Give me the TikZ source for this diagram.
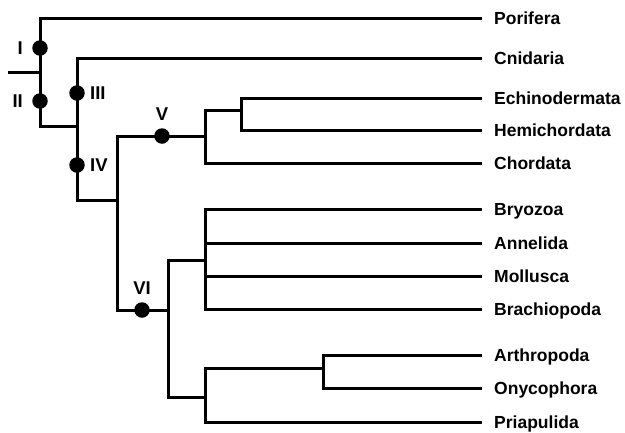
\documentclass[tikz,border=0pt]{standalone}
\usepackage{fontspec}
\setmainfont{Liberation Sans}
\usetikzlibrary{positioning}
\tikzset{
	branch/.style={line width=3pt},
	taxon/.style={anchor=west, inner xsep=12pt, inner ysep=0pt, text height=12.5pt, text depth=0pt, font=\fontsize{17.5}{20}\selectfont\bfseries},
	event/.style={circle, fill=black, inner sep=0pt, minimum size=15.5pt},
	numeral/.style={inner sep=0pt, font=\fontsize{18.5}{20}\selectfont\bfseries}
}

\begin{document}
\begin{tikzpicture}[x=1pt, y=-1pt]
		\useasboundingbox (0, 0) rectangle (625, 432);

		% the taxa
		\node[taxon] (porifera) at (482, 18) {Porifera};
		\node[taxon] (cnidaria) at (482, 58) {Cnidaria};
		\node[taxon] (echinodermata) at (482, 98) {Echinodermata};
		\node[taxon] (hemichordata) at (482, 130) {Hemichordata};
		\node[taxon] (chordata) at (482, 163) {Chordata};
		\node[taxon] (bryozoa) at (482, 209) {Bryozoa};
		\node[taxon] (annelida) at (482, 243) {Annelida};
		\node[taxon] (mollusca) at (482, 276) {Mollusca};
		\node[taxon] (brachiopoda) at (482, 309) {Brachiopoda};
		\node[taxon] (arthropoda) at (482, 355) {Arthropoda};
		\node[taxon] (onycophora) at (482, 388) {Onycophora};
		\node[taxon] (priapulida) at (482, 422) {Priapulida};

		% the branching points
		\coordinate (stub) at (8, 72);
		\coordinate (root) at (40, 72);
		\coordinate (rest) at (77, 126);
		\coordinate (bilat) at (117, 200);
		\coordinate (deut) at (205, 136);
		\coordinate (ambul) at (241, 110);
		\coordinate (prot) at (168, 310);
		\coordinate (loph) at (205, 260);
		\coordinate (ecdy) at (205, 397);
		\coordinate (panar) at (323, 368);

		% the tree
		\draw[branch] (stub) -- (root);
		\draw[branch] (root) |- (porifera.west);
		\draw[branch] (root) |- (rest);
		\draw[branch] (rest) |- (cnidaria.west);
		\draw[branch] (rest) |- (bilat);
		\draw[branch] (bilat) |- (deut);
		\draw[branch] (bilat) |- (prot);
		\draw[branch] (deut) |- (ambul);
		\draw[branch] (deut) |- (chordata.west);
		\draw[branch] (ambul) |- (echinodermata.west);
		\draw[branch] (ambul) |- (hemichordata.west);
		\draw[branch] (prot) |- (loph);
		\draw[branch] (prot) |- (ecdy);
		\draw[branch] (loph) |- (bryozoa.west);
		\draw[branch] (loph) |- (annelida.west);
		\draw[branch] (loph) |- (mollusca.west);
		\draw[branch] (loph) |- (brachiopoda.west);
		\draw[branch] (ecdy) |- (panar);
		\draw[branch] (ecdy) |- (priapulida.west);
		\draw[branch] (panar) |- (arthropoda.west);
		\draw[branch] (panar) |- (onycophora.west);

		% the events
		\node[event] (dI) at (40, 48) {};
		\node[event] (dII) at (40, 101) {};
		\node[event] (dIII) at (77, 93) {};
		\node[event] (dIV) at (77, 165) {};
		\node[event] (dV) at (162, 136) {};
		\node[event] (dVI) at (142, 310) {};
		\node[numeral, left=9pt of dI] (lI) {I};
		\node[numeral, left=9pt of dII] (lII) {II};
		\node[numeral, right=5pt of dIII] (lIII) {III};
		\node[numeral, right=5pt of dIV] (lIV) {IV};
		\node[numeral, above=7pt of dV] (lV) {V};
		\node[numeral, above=7pt of dVI] (lVI) {VI};
	\end{tikzpicture}
\end{document}
